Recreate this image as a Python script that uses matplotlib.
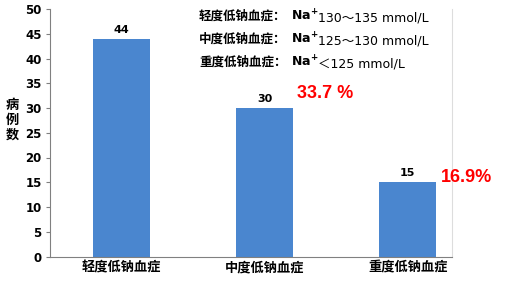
import matplotlib
matplotlib.use('Agg')
import matplotlib.pyplot as plt

plt.rcParams['font.family'] = ['Noto Sans CJK SC', 'DejaVu Sans']
plt.rcParams['axes.unicode_minus'] = False

# data
categories = ['轻度低钠血症', '中度低钠血症', '重度低钠血症']
counts = [44, 30, 15]
percent_labels = ['', '33.7 %', '16.9%']
ranges = ['130～135 mmol/L', '125～130 mmol/L', '＜125 mmol/L']
yticks = [0, 5, 10, 15, 20, 25, 30, 35, 40, 45, 50]

# vertical offset of the red percentage above each bar top
pct_offsets = [0, 3.0, 0.9]

fig = plt.figure(figsize=(5.23, 2.81), dpi=100)
ax = fig.add_axes([50 / 523, 1 - 256.5 / 281, 402 / 523, 247.5 / 281])

x = list(range(len(categories)))
bars = ax.bar(x, counts, width=0.4, color='#4A86CF', zorder=2)

for xi, c in zip(x, counts):
    ax.text(xi, c + 0.8, str(c), ha='center', va='bottom', fontsize=8,
            fontweight='bold', family='DejaVu Sans')

# red percentages next to the bars
for xi, c, p, off in zip(x, counts, percent_labels, pct_offsets):
    if p:
        ax.text(xi + 0.23, c + off, p, ha='left', va='center', fontsize=13,
                fontweight='bold', color='#FF0000', family='Liberation Sans')

ax.set_xlim(-0.5, 2.31)
ax.set_ylim(0, 50)
ax.set_yticks(yticks)
ax.set_yticklabels([str(t) for t in yticks], fontsize=8.5, fontweight='bold',
                   family='DejaVu Sans')
ax.set_xticks(x)
ax.set_xticklabels(categories, fontsize=9.5, fontweight='bold')
ax.tick_params(axis='x', length=0, pad=3)
ax.tick_params(axis='y', length=3, color='#808080', pad=3)

ax.spines['top'].set_visible(False)
ax.spines['right'].set_color('#DDDDDD')
ax.spines['left'].set_color('#808080')
ax.spines['bottom'].set_color('#808080')

fig.text(12 / 523, 1 - 120 / 281, '病\n例\n数', ha='center', va='center',
         fontsize=9.5, fontweight='bold', linespacing=1.1)

# legend text block
ly = [16, 39, 62]
for name, r, yy in zip(categories, ranges, ly):
    fig.text(199 / 523, 1 - yy / 281, name + '：', ha='left', va='center',
             fontsize=9, fontweight='bold')
    fig.text(291 / 523, 1 - yy / 281, r'Na$^{\mathbf{+}}$', ha='left', va='center',
             fontsize=9, fontweight='bold', family='DejaVu Sans')
    fig.text(318 / 523, 1 - (yy + 2) / 281, r, ha='left', va='center',
             fontsize=9, family=['DejaVu Sans', 'Noto Sans CJK SC'])

fig.savefig('out.png', dpi=100)
